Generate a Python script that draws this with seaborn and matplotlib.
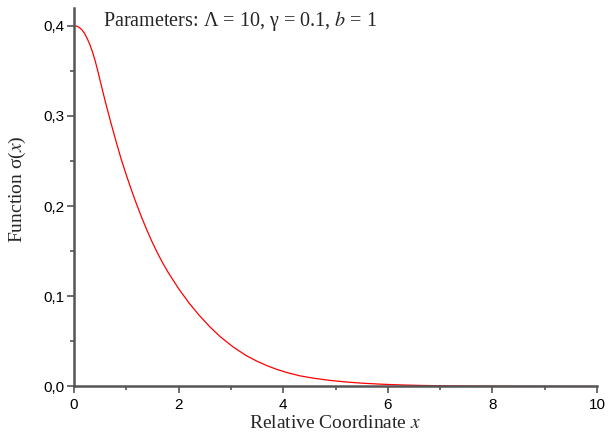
import pandas as pd
import matplotlib
matplotlib.use('Agg')
import matplotlib.pyplot as plt
from matplotlib.ticker import MultipleLocator, FuncFormatter
import seaborn as sns

# values
x_vals = [0.0, 0.05, 0.1, 0.15, 0.2, 0.25, 0.3, 0.35, 0.4, 0.45, 0.5, 0.6, 0.7,
          0.8, 0.9, 1.0, 1.1, 1.2, 1.3, 1.4, 1.5, 1.6, 1.7, 1.8, 2.0, 2.2, 2.4,
          2.6, 2.8, 3.05, 3.3, 3.5, 3.7, 3.9, 4.1, 4.32, 4.6, 4.9, 5.2, 5.5,
          5.85, 6.2, 6.6, 7.0, 7.5, 8.0, 8.5, 9.0, 9.5, 10.0]
sigma_vals = [0.400, 0.3995, 0.398, 0.3955, 0.3915, 0.386, 0.3795, 0.3715,
              0.362, 0.351, 0.339, 0.3155, 0.2935, 0.2725, 0.2525, 0.2345,
              0.2175, 0.2015, 0.1865, 0.1725, 0.1595, 0.1475, 0.1365, 0.1265,
              0.1085, 0.0925, 0.0785, 0.066, 0.055, 0.0435, 0.034, 0.028,
              0.0228, 0.0185, 0.015, 0.0118, 0.009, 0.0067, 0.005, 0.0037,
              0.0026, 0.0018, 0.0012, 0.0008, 0.0005, 0.0003, 0.00018, 0.00011,
              0.00007, 0.00004]

x_ticks = [0, 2, 4, 6, 8, 10]
y_ticks = [0.0, 0.1, 0.2, 0.3, 0.4]
title_text = r'Parameters: Λ = 10, γ = 0.1, $b$ = 1'

df = pd.DataFrame({'x': x_vals, 'sigma': sigma_vals})

sns.set_style('ticks')
plt.rcParams['font.family'] = ['Liberation Sans', 'DejaVu Sans']
plt.rcParams['mathtext.fontset'] = 'stix'

fig = plt.figure(figsize=(6.1, 4.37), dpi=100)
ax = fig.add_axes([0.1213, 0.1156, 0.8574, 0.867])

sns.lineplot(data=df, x='x', y='sigma', color='red', linewidth=0.9, ax=ax)

ax.set_xlim(0, 10)
ax.set_ylim(0, 0.42)
ax.set_xticks(x_ticks)
ax.set_yticks(y_ticks)
ax.xaxis.set_minor_locator(MultipleLocator(1))
ax.yaxis.set_minor_locator(MultipleLocator(0.05))
ax.yaxis.set_major_formatter(FuncFormatter(lambda v, p: f'{v:.1f}'.replace('.', ',')))
ax.tick_params(axis='both', which='major', length=5, width=1.2, color='#555555',
               labelsize=11, labelcolor='black')
ax.tick_params(axis='x', which='major', pad=3.5)
ax.tick_params(axis='y', which='major', pad=1.5)
ax.tick_params(axis='both', which='minor', length=3, width=1.2, color='#555555')

serif = ['Liberation Serif', 'DejaVu Serif']
ax.set_xlabel('Relative Coordinate $x$', fontsize=14, family=serif)
ax.set_ylabel(r'Function σ($x$)', fontsize=14, family=serif)
ax.xaxis.set_label_coords(0.5, -0.074)
ax.yaxis.set_label_coords(-0.088, 0.522)

ax.text(0.55, 0.3995, title_text, fontsize=14.5, family=serif,
        ha='left', va='baseline')

sns.despine(ax=ax)
for side in ['left', 'bottom']:
    ax.spines[side].set_color('#555555')
    ax.spines[side].set_linewidth(1.8)

fig.savefig('out.png', dpi=100)
